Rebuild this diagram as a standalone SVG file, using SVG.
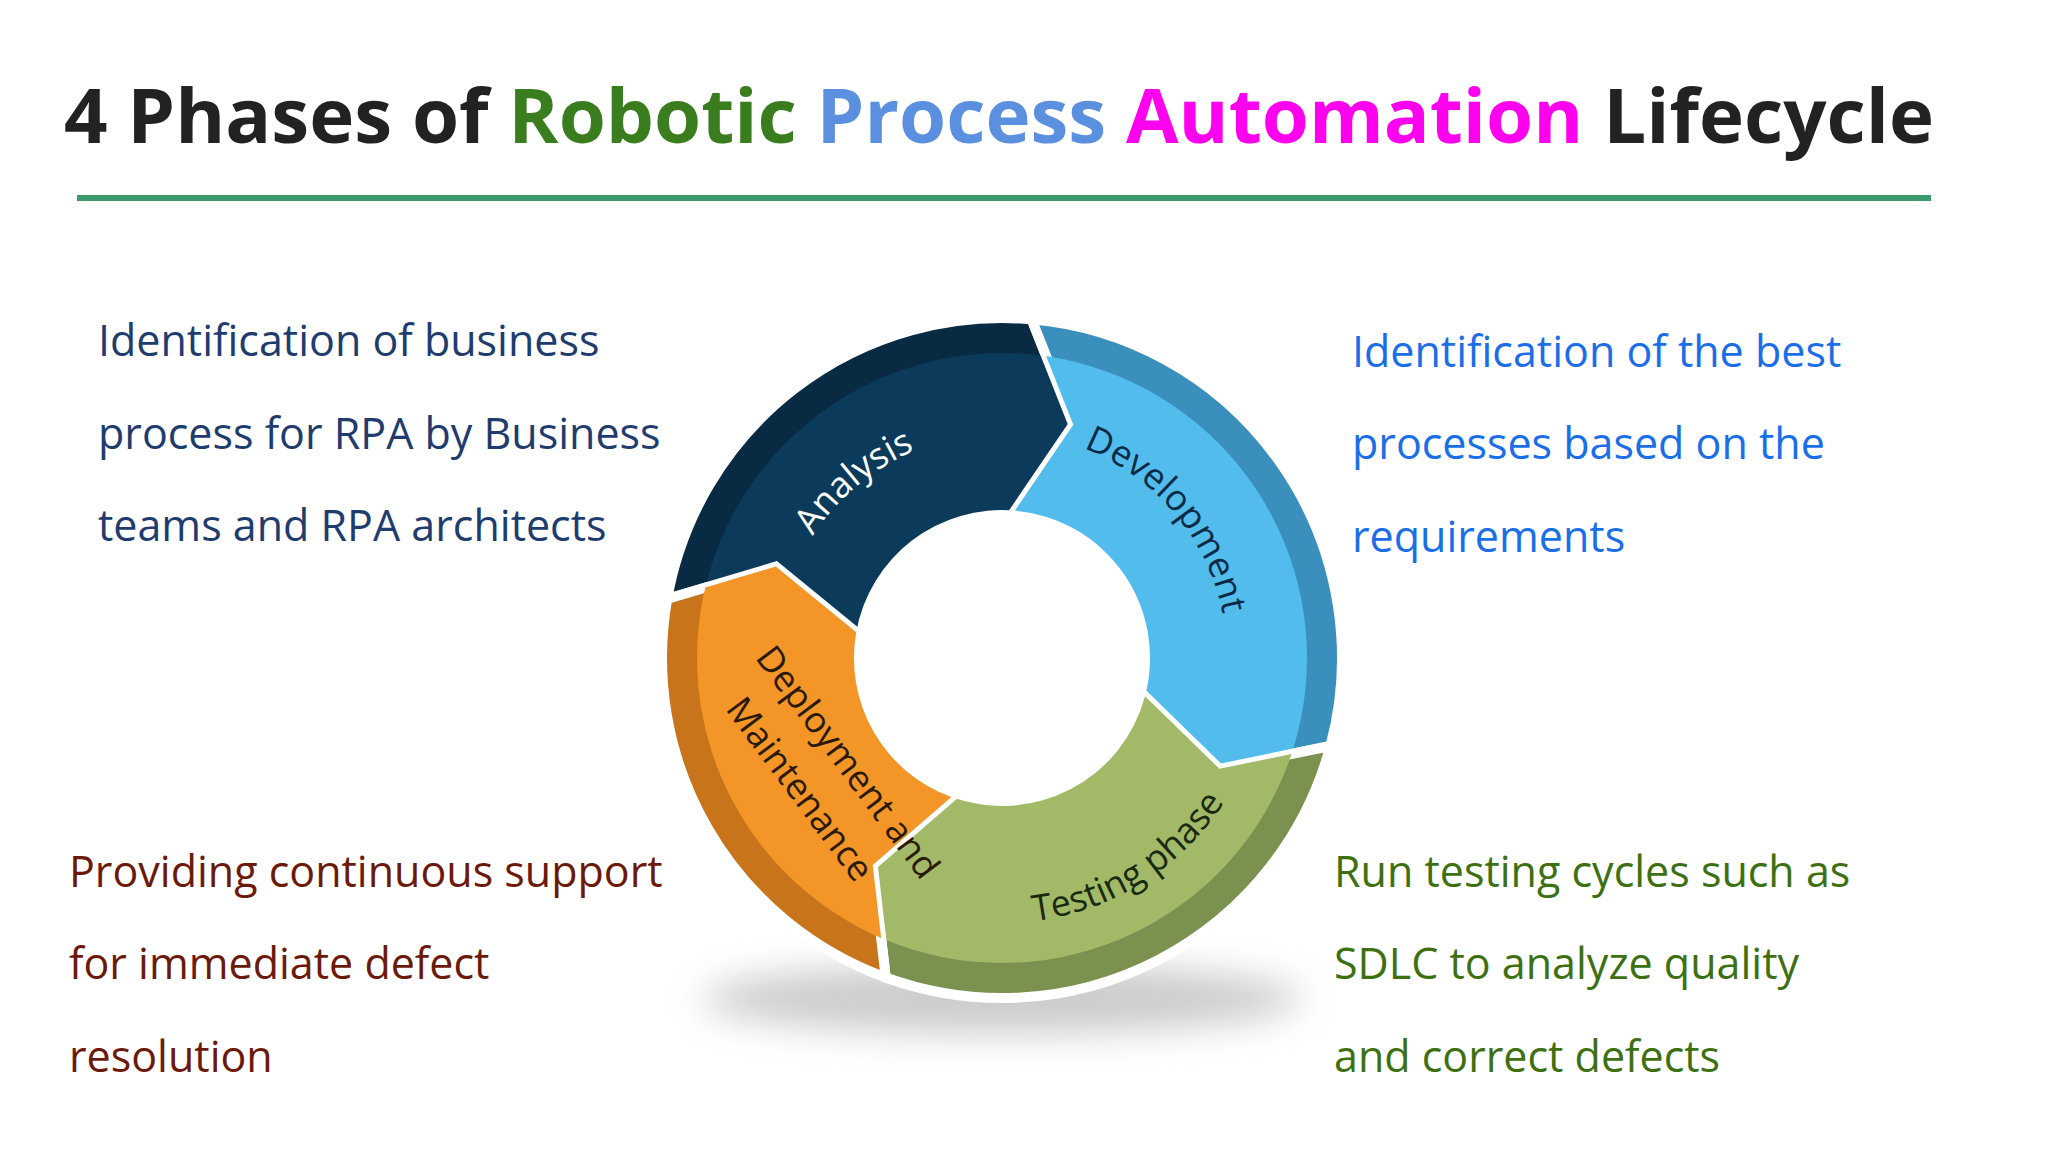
<svg xmlns="http://www.w3.org/2000/svg" width="2048" height="1152" viewBox="0 0 2048 1152">
<defs>
<filter id="blur" x="-50%" y="-50%" width="200%" height="200%"><feGaussianBlur stdDeviation="18"/></filter>
<clipPath id="inner"><circle cx="1014" cy="664" r="305"/></clipPath>
<path id="pA" d="M792.4,624.9 A225,225 0 0 1 1014,439"/>
<path id="pD" d="M1033.6,439.8 A225,225 0 0 1 1238.1,683.6"/>
<path id="pT" d="M932.1,916 A265,265 0 0 0 1276.4,700.9"/>
<path id="pM1" d="M754,647 L946,904"/>
<path id="pM2" d="M718,690 L886,915"/>
</defs>
<style>
.t{font-family:"Open Sans","Noto Sans",sans-serif;font-size:43px}
.lbl{font-family:"Open Sans","Noto Sans",sans-serif;font-size:36px}
.seg{stroke:#fff;stroke-width:10;stroke-linejoin:miter}
</style>
<rect width="2048" height="1152" fill="#fff"/>
<g id="title">
<text x="64" y="143" font-family="Open Sans, Noto Sans, sans-serif" font-weight="bold" font-size="76" fill="#222" textLength="1870" lengthAdjust="spacingAndGlyphs"><tspan>4 Phases of </tspan><tspan fill="#3a7d1e">Robotic </tspan><tspan fill="#5b8fe0">Process </tspan><tspan fill="#ff00ee">Automation </tspan><tspan>Lifecycle</tspan></text>
<rect x="77" y="195" width="1854" height="6" fill="#3a9a6a"/>
</g>
<g transform="translate(-12,-6)">
<ellipse cx="1014" cy="1005" rx="300" ry="35" fill="#999" opacity="0.5" filter="url(#blur)"/>
<g id="analysis">
<path class="seg" fill="#082a42" d="M679.2,605 A340,340 0 0 1 1043.6,325.3 L1085.3,430.7 L1026.9,516.6 A148,148 0 0 0 868.2,638.3 L787.8,572.6 Z"/>
<path fill="#0b3a5a" clip-path="url(#inner)" d="M679.2,605 A340,340 0 0 1 1043.6,325.3 L1085.3,430.7 L1026.9,516.6 A148,148 0 0 0 868.2,638.3 L787.8,572.6 Z"/>
<text class="lbl" fill="#fff"><textPath href="#pA" startOffset="50%" text-anchor="middle">Analysis</textPath></text>
</g>
<g id="development">
<path class="seg" fill="#3a8fbd" d="M1043.6,325.3 A340,340 0 0 1 1342.4,752 L1231.4,774.8 L1157,702.3 A148,148 0 0 0 1026.9,516.6 L1085.3,430.7 Z"/>
<path fill="#52bdec" clip-path="url(#inner)" d="M1043.6,325.3 A340,340 0 0 1 1342.4,752 L1231.4,774.8 L1157,702.3 A148,148 0 0 0 1026.9,516.6 L1085.3,430.7 Z"/>
<text class="lbl" fill="#0b2a45"><textPath href="#pD" startOffset="50%" text-anchor="middle">Development</textPath></text>
</g>
<g id="testing">
<path class="seg" fill="#7a9150" d="M1342.4,752 A340,340 0 0 1 897.7,983.5 L884.7,870.9 L963.4,803.1 A148,148 0 0 0 1157,702.3 L1231.4,774.8 Z"/>
<path fill="#a2ba68" clip-path="url(#inner)" d="M1342.4,752 A340,340 0 0 1 897.7,983.5 L884.7,870.9 L963.4,803.1 A148,148 0 0 0 1157,702.3 L1231.4,774.8 Z"/>
<text class="lbl" fill="#1a2a10"><textPath href="#pT" startOffset="50%" text-anchor="middle">Testing phase</textPath></text>
</g>
<g id="deployment">
<path class="seg" fill="#c8741a" d="M897.7,983.5 A340,340 0 0 1 679.2,605 L787.8,572.6 L868.2,638.3 A148,148 0 0 0 963.4,803.1 L884.7,870.9 Z"/>
<path fill="#f39527" clip-path="url(#inner)" d="M897.7,983.5 A340,340 0 0 1 679.2,605 L787.8,572.6 L868.2,638.3 A148,148 0 0 0 963.4,803.1 L884.7,870.9 Z"/>
<text class="lbl" fill="#2a1a05" font-size="34"><textPath href="#pM1" startOffset="50%" text-anchor="middle">Deployment and</textPath></text>
<text class="lbl" fill="#2a1a05" font-size="34"><textPath href="#pM2" startOffset="50%" text-anchor="middle">Maintenance</textPath></text>
</g>
</g>
<g id="connectors"/>
<g id="desc-analysis" class="t" fill="#1f3c6e">
<text x="98" y="356">Identification of business</text>
<text x="98" y="449">process for RPA by Business</text>
<text x="98" y="541">teams and RPA architects</text>
</g>
<g id="desc-development" class="t" fill="#1a6ee8">
<text x="1352" y="367">Identification of the best</text>
<text x="1352" y="459">processes based on the</text>
<text x="1352" y="552">requirements</text>
</g>
<g id="desc-deployment" class="t" fill="#6b1a0a">
<text x="69" y="887">Providing continuous support</text>
<text x="69" y="979">for immediate defect</text>
<text x="69" y="1072">resolution</text>
</g>
<g id="desc-testing" class="t" fill="#3d7010">
<text x="1334" y="887">Run testing cycles such as</text>
<text x="1334" y="979">SDLC to analyze quality</text>
<text x="1334" y="1072">and correct defects</text>
</g>
</svg>
